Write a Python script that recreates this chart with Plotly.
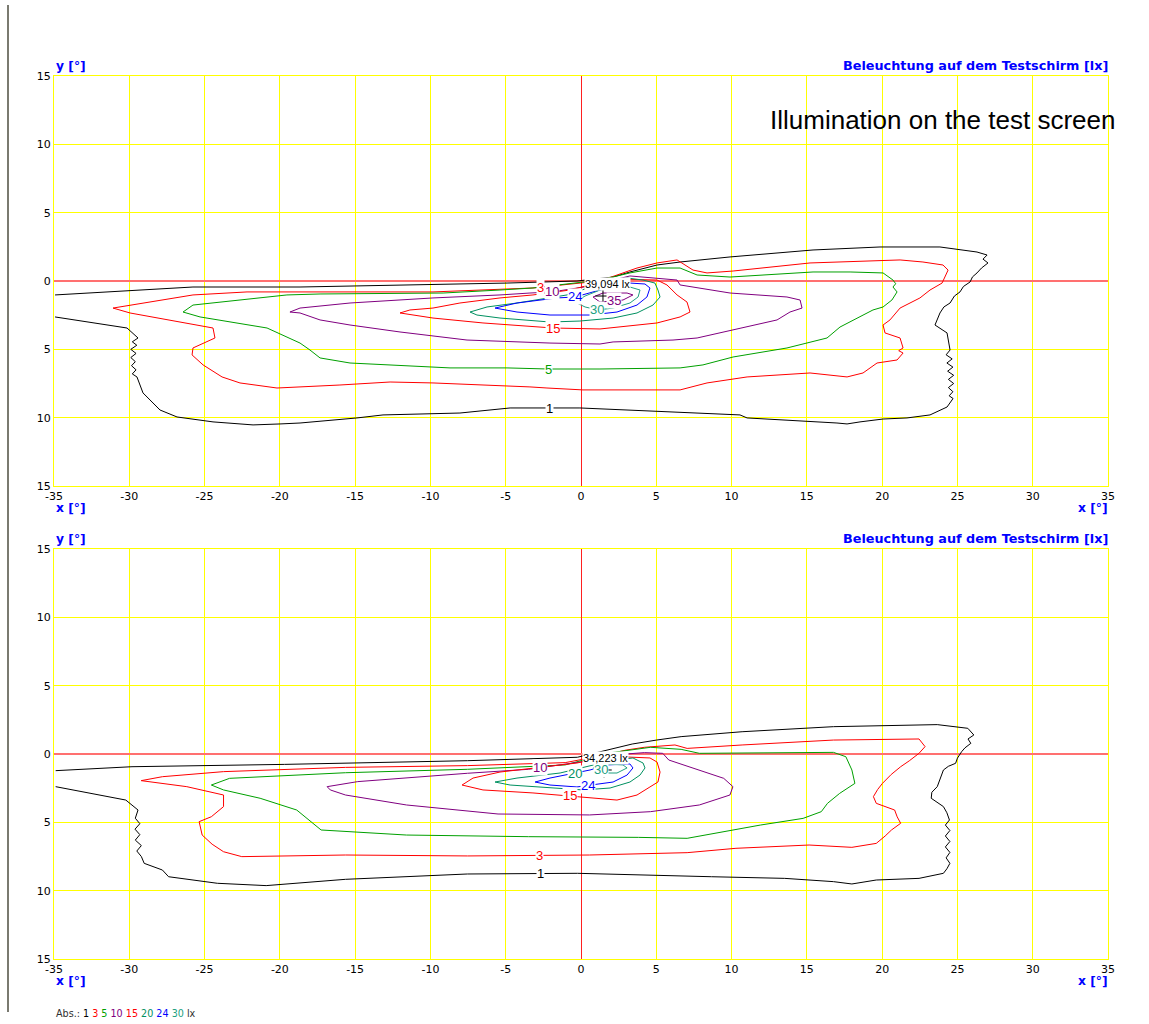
import plotly.graph_objects as go

# ---------------- data (degrees) ----------------
levels = [1, 3, 5, 10, 15, 20, 24, 30, 35]
level_colors = {1: "#000000", 3: "#FF0000", 5: "#00A000", 10: "#800080",
                15: "#FF0000", 20: "#009060", 24: "#0000FF", 30: "#20A080", 35: "#800080"}

x_ticks = [-35, -30, -25, -20, -15, -10, -5, 0, 5, 10, 15, 20, 25, 30, 35]
x_ticktext = ["-35", "-30", "-25", "-20", "-15", "-10", "-5", "0", "5", "10", "15", "20", "25", "30", "35"]
y_ticks = [-15, -10, -5, 0, 5, 10, 15]
y_ticktext = ["15", "10", "5", "0", "5", "10", "15"]

# ---- upper panel isolux lines (x, y) ----
top_1 = [(-34.93, -1.02), (-29.95, -0.73), (-25.77, -0.44), (-18.66, -0.44), (-10.89, -0.29),
         (-4.91, -0.15), (-0.27, 0.0), (2.13, 0.29), (3.25, 0.66), (5.05, 1.17), (6.58, 1.39),
         (9.90, 1.76), (15.41, 2.27), (19.86, 2.49), (23.84, 2.49), (26.30, 2.12), (26.97, 1.90),
         (26.7, 1.6), (27.03, 1.32), (26.6, 0.95), (26.30, 0.59), (26.0, 0.3), (25.84, -0.07),
         (25.4, -0.4), (25.17, -0.80), (24.8, -1.1), (24.51, -1.61), (24.1, -1.9), (23.84, -2.34),
         (23.51, -3.22), (24.31, -3.80), (24.51, -5.05), (24.25, -5.4), (24.65, -5.7), (24.3, -6.0),
         (24.7, -6.3), (24.35, -6.6), (24.75, -6.9), (24.4, -7.2), (24.75, -7.5), (24.4, -7.8),
         (24.7, -8.1), (24.45, -8.4), (24.71, -8.6), (24.31, -9.22), (23.18, -9.80), (21.65, -10.02),
         (20.06, -10.10), (18.53, -10.31), (17.67, -10.46), (17.00, -10.39), (11.03, -10.02),
         (10.56, -9.80), (3.25, -9.44), (-0.07, -9.29), (-2.26, -9.29), (-4.71, -9.29), (-8.04, -9.66),
         (-13.15, -9.80), (-14.88, -10.02), (-18.66, -10.39), (-19.99, -10.46), (-21.78, -10.53),
         (-24.44, -10.31), (-26.83, -9.95), (-27.96, -9.44), (-29.09, -8.19), (-29.49, -7.02),
         (-29.8, -6.8), (-29.55, -6.5), (-29.85, -6.2), (-29.6, -5.9), (-29.9, -5.6), (-29.55, -5.3),
         (-29.9, -5.0), (-29.5, -4.7), (-29.8, -4.45), (-29.42, -4.17), (-30.15, -3.44), (-34.93, -2.63)]
top_3 = [(-31.08, -1.98), (-25.77, -1.02), (-22.18, -0.80), (-17.33, -0.80), (-9.83, -0.80),
         (-3.19, -0.51), (1.26, 0.0), (3.72, 0.95), (5.05, 1.32), (6.38, 1.54), (7.44, 0.80),
         (8.37, 0.59), (10.10, 0.73), (15.21, 1.32), (21.19, 1.54), (22.71, 1.39), (24.04, 1.17),
         (24.38, 0.80), (24.18, 0.29), (23.98, -0.15), (23.18, -0.66), (22.51, -1.24), (21.85, -1.61),
         (21.19, -1.98), (20.52, -2.85), (20.06, -3.22), (20.19, -3.80), (21.19, -4.17), (21.39, -4.90),
         (21.1, -5.1), (21.39, -5.27), (20.99, -5.78), (19.66, -6.00), (18.73, -6.73), (17.67, -7.02),
         (15.21, -6.73), (11.03, -7.02), (8.37, -7.46), (6.58, -7.97), (0.13, -7.97), (-2.26, -7.83),
         (-3.39, -7.75), (-9.83, -7.46), (-12.68, -7.39), (-16.01, -7.61), (-18.66, -7.75),
         (-20.19, -7.83), (-22.65, -7.46), (-23.84, -7.02), (-25.10, -6.14), (-25.83, -5.41),
         (-25.77, -4.90), (-24.31, -4.17), (-24.44, -3.44), (-29.95, -2.34), (-31.08, -1.98)]
top_5 = [(-26.43, -2.27), (-25.30, -2.63), (-20.85, -3.44), (-18.66, -4.54), (-18.00, -5.05),
         (-17.33, -5.63), (-15.34, -6.00), (-12.49, -6.14), (-8.70, -6.36), (-4.91, -6.36),
         (-2.19, -6.44), (1.26, -6.44), (6.58, -6.36), (8.10, -6.14), (10.10, -5.56), (13.68, -4.90),
         (15.01, -4.54), (16.34, -4.17), (17.20, -3.37), (18.73, -2.49), (19.39, -2.12), (20.06, -1.90),
         (20.65, -1.39), (20.99, -0.80), (20.72, -0.44), (20.9, -0.2), (20.72, 0.07), (20.06, 0.59),
         (17.87, 0.66), (15.41, 0.66), (9.90, 0.29), (7.71, 0.44), (6.58, 0.95), (5.05, 0.95),
         (3.25, 0.59), (1.26, 0.07), (-3.19, -0.51), (-5.38, -0.66), (-9.16, -0.88), (-17.33, -0.95),
         (-19.53, -1.02), (-25.77, -1.76), (-26.43, -2.27)]
top_10 = [(-19.33, -2.27), (-18.66, -2.34), (-17.33, -2.85), (-15.34, -3.22), (-12.02, -3.73),
          (-7.57, -4.32), (-2.06, -4.54), (1.26, -4.61), (2.13, -4.46), (6.11, -4.32), (7.71, -4.17),
          (10.56, -3.44), (13.02, -2.85), (13.88, -2.27), (14.68, -1.98), (14.55, -1.39), (13.68, -1.17),
          (9.90, -0.88), (6.58, -0.29), (6.38, 0.07), (3.25, 0.37), (0.60, -0.37), (-1.93, -0.80),
          (-3.39, -0.88), (-5.38, -1.02), (-9.83, -1.24), (-15.34, -1.61), (-18.66, -1.98), (-19.33, -2.27)]
top_15 = [(-12.02, -2.34), (-9.83, -2.71), (-6.51, -3.07), (-3.19, -3.37), (-1.86, -3.44),
          (1.26, -3.51), (2.59, -3.37), (5.05, -3.07), (6.58, -2.63), (7.24, -2.27), (7.04, -1.54),
          (6.38, -1.02), (5.71, -0.29), (5.05, 0.07), (2.13, 0.15), (-0.73, -0.66), (-3.19, -1.02),
          (-5.38, -1.24), (-8.04, -1.61), (-9.83, -1.98), (-11.36, -2.12), (-12.02, -2.34)]
top_20 = [(-7.37, -2.27), (-6.91, -2.49), (-5.38, -2.71), (-2.06, -3.00), (-0.07, -2.93),
          (2.13, -2.71), (3.72, -2.34), (4.78, -1.76), (5.25, -1.17), (5.11, -0.66), (4.91, -0.15),
          (4.12, 0.07), (3.06, 0.22), (1.26, -0.22), (-0.93, -1.02), (-4.25, -1.61), (-6.24, -1.90),
          (-7.37, -2.27)]
top_24 = [(-5.71, -1.98), (-4.25, -2.27), (-2.06, -2.49), (0.60, -2.49), (2.39, -2.27), (3.72, -1.76),
          (4.38, -1.17), (4.58, -0.51), (4.25, -0.22), (3.25, -0.15), (1.26, -0.66), (-0.40, -1.17),
          (-1.59, -1.24), (-4.25, -1.61), (-5.71, -1.98)]
top_30 = [(-0.40, -1.54), (0.27, -1.90), (1.13, -2.12), (2.13, -1.98), (3.25, -1.61), (3.79, -1.17),
          (3.92, -0.66), (3.25, -0.44), (2.26, -0.44), (1.26, -0.66), (0.27, -1.10), (-0.40, -1.54)]
top_35 = [(0.80, -1.17), (1.26, -1.54), (2.79, -1.39), (3.45, -1.02), (3.06, -0.88), (1.46, -0.88),
          (0.80, -1.17)]

# ---- lower panel isolux lines (x, y) ----
bot_1 = [(-34.89, -1.22), (-29.82, -0.93), (-19.69, -0.76), (-7.54, -0.49), (-0.24, -0.24), (1.5, 0.2),
         (2.19, 0.41), (3.40, 0.73), (5.02, 1.02), (6.65, 1.27), (10.70, 1.63), (16.77, 2.0), (23.66, 2.15),
         (25.69, 1.88), (26.09, 1.39), (25.7, 1.1), (25.89, 0.78), (25.5, 0.45), (25.28, 0.17), (25.0, -0.3),
         (24.88, -0.68), (24.4, -0.9), (24.07, -1.17), (23.9, -1.7), (23.66, -2.39), (23.3, -2.8),
         (23.26, -3.24), (24.07, -3.85), (24.3, -4.3), (24.47, -4.83), (24.2, -5.2), (24.5, -5.6),
         (24.2, -6.0), (24.5, -6.4), (24.2, -6.8), (24.5, -7.2), (24.25, -7.6), (24.5, -8.0), (24.3, -8.4),
         (24.07, -8.73), (22.45, -9.10), (19.61, -9.22), (17.99, -9.51), (16.77, -9.34), (13.53, -9.10),
         (8.67, -8.98), (2.59, -8.78), (-0.24, -8.73), (-7.54, -8.78), (-11.59, -8.98), (-15.64, -9.17),
         (-20.91, -9.63), (-24.15, -9.46), (-27.39, -8.98), (-27.80, -8.49), (-29.01, -8.0), (-29.2, -7.5),
         (-29.5, -7.1), (-29.2, -6.7), (-29.6, -6.3), (-29.3, -5.9), (-29.62, -5.5), (-29.3, -5.1),
         (-29.6, -4.7), (-29.42, -4.10), (-30.23, -3.37), (-34.89, -2.39)]
bot_3 = [(-29.21, -1.95), (-27.80, -1.66), (-23.74, -1.29), (-15.64, -0.98), (-7.54, -0.85),
         (-1.05, -0.63), (1.5, -0.1), (3.0, 0.29), (4.21, 0.49), (6.24, 0.66), (7.05, 0.41), (10.70, 0.66),
         (16.77, 1.02), (22.45, 1.10), (22.85, 0.54), (22.45, 0.05), (21.8, -0.5), (21.23, -0.93),
         (20.6, -1.5), (20.02, -2.15), (19.7, -2.6), (19.42, -3.12), (19.61, -3.61), (20.83, -4.10),
         (21.0, -4.6), (21.23, -5.07), (20.62, -5.56), (20.2, -6.0), (19.61, -6.54), (17.99, -6.83),
         (15.15, -6.66), (10.29, -6.90), (7.05, -7.22), (0.57, -7.39), (-7.54, -7.46), (-15.64, -7.39),
         (-22.53, -7.51), (-23.74, -7.15), (-24.5, -6.6), (-25.16, -5.93), (-25.36, -4.95),
         (-24.55, -4.59), (-23.74, -3.85), (-23.74, -3.0), (-26.18, -2.39), (-29.21, -1.95)]
bot_5 = [(-24.55, -2.27), (-23.34, -1.78), (-15.64, -1.37), (-7.54, -1.12), (-1.05, -0.80), (2.0, 0.1),
         (4.62, 0.49), (6.65, 0.34), (7.86, 0.05), (16.77, 0.12), (17.59, -0.20), (17.99, -1.17),
         (18.19, -2.15), (17.18, -2.88), (16.37, -3.61), (15.96, -4.22), (14.75, -4.71), (11.91, -5.20),
         (7.05, -6.17), (3.81, -6.10), (-3.48, -6.05), (-11.59, -5.93), (-17.26, -5.56), (-18.07, -4.83),
         (-18.88, -4.10), (-21.31, -3.24), (-23.74, -2.63), (-24.55, -2.27)]
bot_10 = [(-16.86, -2.39), (-14.83, -2.02), (-7.54, -1.41), (-3.48, -1.12), (0.5, -0.5), (3.0, 0.0),
          (4.21, 0.10), (5.43, 0.05), (5.83, -0.44), (7.86, -1.17), (9.48, -1.78), (10.09, -2.39),
          (9.89, -3.0), (7.86, -3.73), (4.62, -4.22), (0.57, -4.46), (-5.51, -4.39), (-11.59, -3.73),
          (-15.64, -3.0), (-16.65, -2.63), (-16.86, -2.39)]
bot_15 = [(-7.90, -2.27), (-7.17, -1.76), (-5.38, -1.32), (-3.19, -1.02), (-0.27, -0.66), (1.26, -0.29),
          (3.06, -0.22), (4.58, -0.29), (5.05, -0.59), (5.25, -1.32), (5.11, -2.05), (4.58, -2.41),
          (3.72, -3.0), (2.39, -3.37), (0.13, -3.15), (-0.73, -3.07), (-3.19, -2.85), (-6.51, -2.63),
          (-7.90, -2.27)]
bot_20 = [(-5.71, -2.05), (-4.25, -1.76), (-1.39, -1.39), (0.80, -0.80), (1.93, -0.51), (3.45, -0.29),
          (4.12, -0.66), (4.25, -1.02), (3.92, -1.54), (3.25, -2.05), (1.93, -2.49), (0.13, -2.63),
          (-2.06, -2.49), (-4.71, -2.27), (-5.71, -2.05)]
bot_24 = [(-3.05, -2.05), (-2.06, -1.76), (0.60, -1.17), (1.73, -0.80), (3.25, -0.73), (3.45, -1.02),
          (3.06, -1.54), (2.13, -2.05), (-0.27, -2.41), (-2.06, -2.27), (-3.05, -2.05)]
bot_30 = [(0.80, -1.02), (1.26, -1.39), (2.39, -1.39), (3.06, -1.02), (2.79, -0.80), (1.46, -0.73),
          (0.80, -1.02)]

top_lines = {1: top_1, 3: top_3, 5: top_5, 10: top_10, 15: top_15, 20: top_20, 24: top_24, 30: top_30, 35: top_35}
bot_lines = {1: bot_1, 3: bot_3, 5: bot_5, 10: bot_10, 15: bot_15, 20: bot_20, 24: bot_24, 30: bot_30}

# contour labels: (level, x, y)
top_labels = [(1, -2.06, -9.36), (5, -2.19, -6.44), (15, -1.86, -3.44), (30, 1.06, -2.05),
              (24, -0.40, -1.17), (10, -1.93, -0.80), (3, -2.72, -0.51), (35, 2.19, -1.39)]
bot_labels = [(1, -2.67, -8.73), (3, -2.76, -7.39), (15, -0.73, -3.07), (24, 0.47, -2.27),
              (20, -0.40, -1.39), (10, -2.72, -1.02), (30, 1.3, -1.1)]

# maxima: (x, y, text, label x, label y)
top_max = (1.46, -1.10, "39,094 lx", 1.73, -0.22)
bot_max = (1.53, -1.17, "34,223 lx", 1.60, -0.29)

legend_levels = [1, 3, 5, 10, 15, 20, 24, 30]

# ---------------- figure ----------------
W, H = 1149, 1024
L, R, T, B = 54, 1108, 76, 959  # plot area pixel box


def px(xp):
    return (xp - L) / (R - L)


def py(yp):
    return (B - yp) / (B - T)


fig = go.Figure()

panels = [("x", "y", top_lines, top_labels, top_max), ("x2", "y2", bot_lines, bot_labels, bot_max)]
annotations = []
for xa, ya, lines, labels, mx in panels:
    for lev, pts in lines.items():
        fig.add_trace(go.Scatter(
            x=[p[0] for p in pts], y=[p[1] for p in pts], mode="lines",
            line=dict(color=level_colors[lev], width=1),
            xaxis=xa, yaxis=ya, showlegend=False, hoverinfo="skip"))
    for lev, lx, ly in labels:
        annotations.append(dict(x=lx, y=ly, xref=xa, yref=ya, text=str(lev), showarrow=False,
                                font=dict(family="Liberation Sans", size=13, color=level_colors[lev]),
                                bgcolor="white", borderpad=0))
    fig.add_trace(go.Scatter(x=[mx[0]], y=[mx[1]], mode="markers",
                             marker=dict(symbol="cross-thin", size=11, line=dict(width=1, color="black")),
                             xaxis=xa, yaxis=ya, showlegend=False, hoverinfo="skip"))
    annotations.append(dict(x=mx[3], y=mx[4], xref=xa, yref=ya, text=mx[2], showarrow=False,
                            font=dict(family="Liberation Sans", size=11, color="black"),
                            bgcolor="white", borderpad=0))

axis_common = dict(showgrid=True, gridcolor="#FFFF00", gridwidth=1,
                   showline=True, linecolor="#FFFF00", linewidth=1, mirror=True,
                   ticks="", tickfont=dict(family="DejaVu Sans", size=11, color="#000000"))

xax = dict(axis_common, range=[-35, 35], tickmode="array", tickvals=x_ticks, ticktext=x_ticktext,
           zeroline=True, zerolinecolor="#FF2020", zerolinewidth=1)
yax = dict(axis_common, range=[-15, 15], tickmode="array", tickvals=y_ticks, ticktext=y_ticktext,
           zeroline=True, zerolinecolor="#FF7070", zerolinewidth=1.5)

top_dom = [py(486), 1.0]
bot_dom = [0.0, py(549)]

blue = dict(family="DejaVu Sans", size=12.8, color="#0000FF")
blue_s = dict(family="DejaVu Sans", size=12.3, color="#0000FF")
for top_px, bottom_px in [(76, 486), (549, 959)]:
    annotations.append(dict(x=px(54), y=py(top_px - 1), xref="paper", yref="paper", text="<b>y [°]</b>",
                            showarrow=False, xanchor="left", yanchor="bottom", font=blue_s))
    annotations.append(dict(x=px(1110), y=py(top_px - 1), xref="paper", yref="paper",
                            text="<b>Beleuchtung auf dem Testschirm [lx]</b>",
                            showarrow=False, xanchor="right", yanchor="bottom", font=blue))
    annotations.append(dict(x=px(54), y=py(bottom_px + 22), xref="paper", yref="paper", text="<b>x [°]</b>",
                            showarrow=False, xanchor="left", yanchor="middle", font=blue_s))
    annotations.append(dict(x=px(1110), y=py(bottom_px + 22), xref="paper", yref="paper", text="<b>x [°]</b>",
                            showarrow=False, xanchor="right", yanchor="middle", font=blue_s))

annotations.append(dict(x=px(1117), y=py(120), xref="paper", yref="paper",
                        text="Illumination on the test screen", showarrow=False,
                        xanchor="right", yanchor="middle",
                        font=dict(family="Liberation Sans", size=26, color="#000000")))

legend_txt = '<span style="color:#303030">Abs.:</span> ' + " ".join(
    f'<span style="color:{level_colors[l]}">{l}</span>' for l in legend_levels) + \
    ' <span style="color:#303030">lx</span>'
annotations.append(dict(x=px(54), y=py(1013), xref="paper", yref="paper", text=legend_txt,
                        showarrow=False, xanchor="left", yanchor="middle",
                        font=dict(family="DejaVu Sans", size=9.6, color="#303030")))

fig.update_layout(
    width=W, height=H, autosize=False,
    margin=dict(l=L, r=W - R, t=T, b=H - B, pad=0),
    paper_bgcolor="white", plot_bgcolor="white",
    xaxis=dict(xax, domain=[0, 1], anchor="y"),
    yaxis=dict(yax, domain=top_dom, anchor="x"),
    xaxis2=dict(xax, domain=[0, 1], anchor="y2"),
    yaxis2=dict(yax, domain=bot_dom, anchor="x2"),
    annotations=annotations,
    shapes=[dict(type="line", xref="paper", yref="paper", x0=px(8), x1=px(8), y0=py(5), y1=py(1012),
                 line=dict(color="#7A7A70", width=2))],
)

fig.write_html("out.html", config={"displayModeBar": False},
               post_script="document.body.style.margin='0';")
